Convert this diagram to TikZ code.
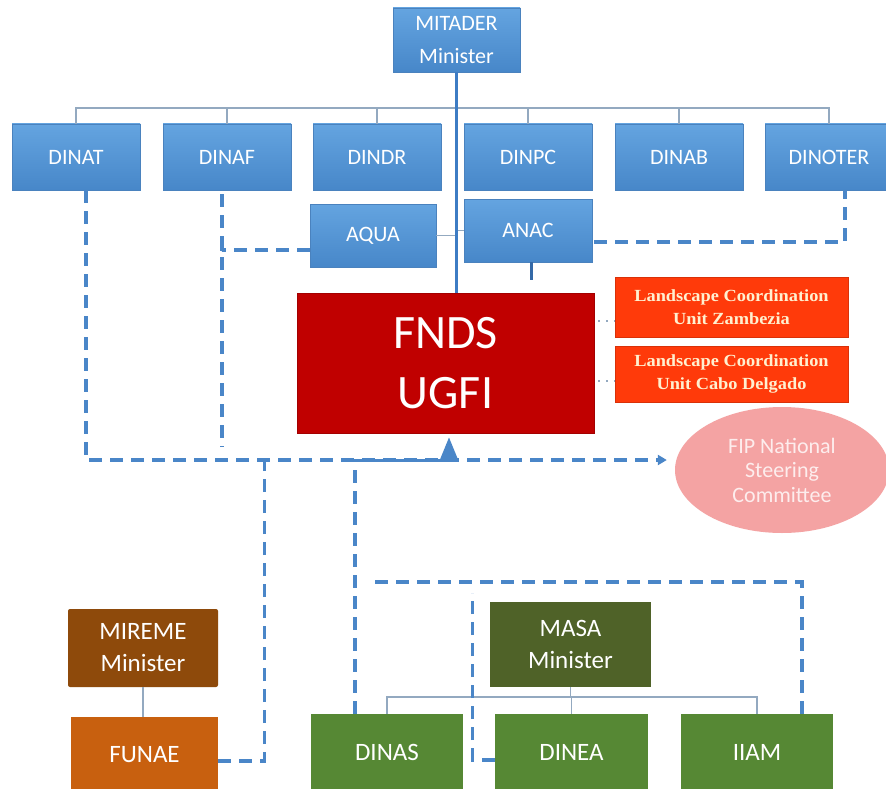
\documentclass[tikz,border=0pt]{standalone}
\usepackage{fontspec}
\setmainfont{Carlito}
\newfontfamily\lcufont[FakeStretch=1.08]{Liberation Serif}
\usetikzlibrary{calc,arrows.meta,shapes.geometric}
\definecolor{bluetop}{HTML}{64A4E0}
\definecolor{bluebot}{HTML}{4787C9}
\definecolor{blueborder}{HTML}{4A82BE}
\definecolor{fndsred}{HTML}{C00000}
\definecolor{lcured}{HTML}{FF3A0A}
\definecolor{lcutext}{HTML}{FFF0D0}
\definecolor{fippink}{HTML}{F4A3A3}
\definecolor{fiptext}{HTML}{FDEDED}
\definecolor{miremebrown}{HTML}{8E4A0B}
\definecolor{funaeorange}{HTML}{C8600F}
\definecolor{masagreen}{HTML}{4F6228}
\definecolor{boxgreen}{HTML}{568834}
\definecolor{dashblue}{HTML}{4A86C8}
\definecolor{mainblue}{HTML}{3D7CC4}
\definecolor{thingray}{HTML}{93A9C0}
\begin{document}
\begin{tikzpicture}[x=1pt,y=-1pt,
  bluebox/.style={rectangle, draw=blueborder, line width=0.6pt, top color=bluetop, bottom color=bluebot,
    text=white, font=\fontsize{22}{33}\selectfont, align=center, inner sep=0pt},
  toprow/.style={bluebox, minimum width=128pt, minimum height=66pt},
  fndsbox/.style={rectangle, fill=fndsred, draw=fndsred!85!black, line width=0.6pt, text=white,
    font=\fontsize{48}{60}\selectfont, align=center, inner sep=0pt},
  lcubox/.style={rectangle, fill=lcured, draw=lcured!85!black, line width=0.6pt, text=lcutext,
    font=\lcufont\bfseries\fontsize{17}{23}\selectfont, align=center, inner sep=0pt, minimum width=233pt},
  fipnode/.style={ellipse, fill=fippink, text=fiptext, font=\fontsize{22}{24.5}\selectfont,
    align=center, inner sep=0pt, minimum width=214pt, minimum height=126pt},
  lowbox/.style={rectangle, text=white, font=\fontsize{25}{32}\selectfont, align=center, inner sep=0pt},
  dline/.style={draw=dashblue, line width=3.2pt, dash pattern=on 13pt off 8pt},
  tline/.style={draw=thingray, line width=1.5pt},
  dotline/.style={draw=thingray, line width=1.8pt, dash pattern=on 1.8pt off 6pt},
  tip/.style={-{Triangle[length=9pt,width=10pt]}}
]
\useasboundingbox[fill=white] (0,0) rectangle (886,789);

% --- MITADER hierarchy
\node[bluebox, minimum width=127pt, minimum height=64pt] (mitader) at (456.5,40) {MITADER\\Minister};
\node[toprow] (dinat) at (76,157) {DINAT};
\node[toprow] (dinaf) at (227,157) {DINAF};
\node[toprow] (dindr) at (377,157) {DINDR};
\node[toprow] (dinpc) at (528,157) {DINPC};
\node[toprow] (dinab) at (679,157) {DINAB};
\node[toprow] (dinoter) at (829,157) {DINOTER};
\node[bluebox, minimum width=126pt, minimum height=63pt] (aqua) at (373,235.5) {AQUA};
\node[bluebox, minimum width=128pt, minimum height=63pt] (anac) at (528,230.5) {ANAC};

\coordinate (tb) at (0,108);
\draw[tline] (dinat.north) |- (tb -| dinoter.north) -- (dinoter.north);
\foreach \n in {dinaf,dindr,dinpc,dinab} \draw[tline] (\n.north) -- (\n.north |- tb);

% --- FNDS and units
\node[fndsbox, minimum width=297pt, minimum height=140pt] (fnds) at (445.5,363) {FNDS\\UGFI};
\node[lcubox, minimum height=60pt] (lcuz) at (731.5,307) {Landscape Coordination\\Unit Zambezia};
\node[lcubox, minimum height=56pt] (lcuc) at (731.5,374) {Landscape Coordination\\Unit Cabo Delgado};
\node[fipnode] (fip) at (782,470) {FIP National\\Steering\\Committee};

\draw[tline] (aqua.east) -- (aqua.east -| mitader.south);
\draw[tline] (anac.west) -- (anac.west -| mitader.south);
\draw[draw=mainblue, line width=2.5pt] (mitader.south) -- (mitader.south |- fnds.north);

\draw[dotline] ($(fnds.east |- lcuz.west)+(4,14)$) -- ($(lcuz.west)+(0,14)$);
\draw[dotline] ($(fnds.east |- lcuc.west)+(4,7)$) -- ($(lcuc.west)+(0,7)$);

% ANAC short stub
\coordinate (anacend) at ($(anac.south)+(3,18)$);
\draw[draw=mainblue!85!black, line width=3pt] ($(anac.south)+(3,0)$) -- (anacend);

% --- lower organisations
\node[lowbox, fill=miremebrown, minimum width=150pt, minimum height=78pt, rounded corners=2pt] (mireme) at (143,648) {MIREME\\Minister};
\node[lowbox, fill=funaeorange, minimum width=147pt, minimum height=76pt] (funae) at (144.5,755) {FUNAE};
\node[lowbox, fill=masagreen, minimum width=161pt, minimum height=85pt] (masa) at (570.5,644.5) {MASA\\Minister};
\node[lowbox, fill=boxgreen, minimum width=152pt, minimum height=76pt] (dinas) at (387,752) {DINAS};
\node[lowbox, fill=boxgreen, minimum width=153pt, minimum height=76pt] (dinea) at (571.5,752) {DINEA};
\node[lowbox, fill=boxgreen, minimum width=152pt, minimum height=76pt] (iiam) at (757,752) {IIAM};

\draw[tline] (mireme.south) -- (mireme.south |- funae.north);
\coordinate (mbus) at (0,697);
\draw[tline] (masa.south) -- (masa.south |- mbus);
\draw[tline] (dinas.north) |- (mbus -| iiam.north) -- (iiam.north);
\draw[tline] (dinea.north) -- (dinea.north |- mbus);

% --- dashed links
\coordinate (bus) at (0,460);
\coordinate (mb) at (0,582);
\draw[dline, tip] ($(dinat.south)+(10,0)$) |- ($(fip.west |- bus)+(-8,0)$);
\draw[dline] ($(dinaf.south)+(-5,4)$) -- ($(dinaf.south |- bus)+(-5,-13)$);
\draw[dline] ($(aqua.west)+(0,14.5)$) -| ($(dinaf.south)+(-5,60)$);
\draw[dline] ($(anac.east)+(2,11.5)$) -| ($(dinoter.south)+(16,0)$);
\draw[dline] ($(funae.east)+(0,6)$) -| ($(funae.east |- bus)+(46,0)$);
\draw[dline] ($(dinas.north)+(-32,0)$) |- ($(fnds.south)+(3.5,27)$);
\draw[draw=dashblue, line width=3pt, -{Triangle[length=22pt,width=17pt]}] ($(fnds.south)+(3.5,27)$) -- ($(fnds.south)+(3.5,4)$);
\draw[dline] ($(iiam.north)+(45,0)$) |- ($(dinas.north |- mb)+(-20,0)$);
\draw[dline] ($(dinea.west)+(0,8)$) -| ($(dinea.west |- mb)+(-22,11)$);
\end{tikzpicture}
\end{document}
